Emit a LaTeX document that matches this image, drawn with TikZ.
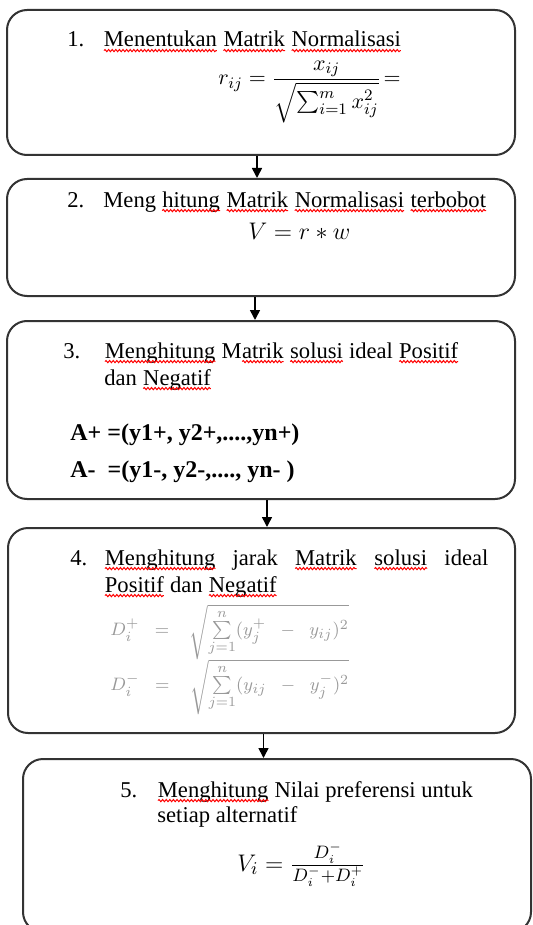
\documentclass[tikz,border=0pt]{standalone}
\usepackage{amsmath}
\usepackage{fontspec}
\setmainfont{Liberation Serif}
\usetikzlibrary{arrows.meta,positioning,decorations.pathmorphing}
\newcommand\redwave[1]{\tikz[baseline=(w.base)]{\node[inner sep=0pt,outer sep=0pt] (w) {#1};
  \draw[red,line width=0.5pt,decorate,decoration={snake,amplitude=0.55pt,segment length=1.8pt}]
  ([yshift=-1.8pt]w.base west) -- ([yshift=-1.8pt]w.base east);}}
\tikzset{
 stepbox/.style={draw=black!80,line width=1pt,rounded corners=10pt},
 arrow/.style={-{Triangle[length=5pt,width=5pt]},line width=0.8pt},
 txt/.style={anchor=base west,inner sep=0pt,font=\fontsize{11.3}{13.5}\selectfont},
 eq/.style={txt,font=\fontsize{12}{14}\selectfont},
 grayeq/.style={txt,text=black!40,font=\fontsize{9.5}{11}\selectfont}
}
\begin{document}
\begin{tikzpicture}[x=0.5pt,y=-0.5pt]
\useasboundingbox (0,0) rectangle (533,925);
\clip (0,0) rectangle (533,925);
% steps
\node[stepbox,minimum width=254pt,minimum height=72.5pt] (norm) at (261,82.5) {};
\node[stepbox,minimum width=254pt,minimum height=58.5pt] (bobot) at (261,237.5) {};
\node[stepbox,minimum width=254pt,minimum height=89pt] (ideal) at (261,410) {};
\node[stepbox,minimum width=253.5pt,minimum height=102.5pt] (jarak) at (261.5,630.5) {};
\node[stepbox,minimum width=254pt,minimum height=86.5pt] (pref) at (277,845.5) {};
\draw[arrow] ([xshift=-2pt]norm.south) -- ([xshift=-2pt]norm.south |- bobot.north);
\draw[arrow] ([xshift=-3pt]bobot.south) -- ([xshift=-3pt]bobot.south |- ideal.north);
\draw[arrow] ([xshift=3pt]ideal.south) -- ([xshift=3pt]ideal.south |- jarak.north);
\draw[arrow] ([xshift=1pt]jarak.south) -- ([xshift=1pt]jarak.south |- pref.north);
% step 1
\node[txt] (num1) at (67,47) {1.};
\node[txt] (txt1) at (103,47) {\redwave{Menentukan} \redwave{Matrik} \redwave{Normalisasi}};
\node[eq,font=\fontsize{11}{13}\selectfont] (eq1) at (218,85) {$r_{ij}=\dfrac{x_{ij}}{\sqrt{\sum_{i=1}^{m}x_{ij}^{2}}}\!=$};
% step 2
\node[txt] (num2) at (67,207) {2.};
\node[txt] (txt2) at (103,207) {Meng \redwave{hitung} \redwave{Matrik} \redwave{Normalisasi} \redwave{terbobot}};
\node[eq] (eq2) at (248,240) {$V = r \ast w$};
% step 3
\node[txt] (num3) at (63,358) {3.};
\node[txt] (txt3a) at (104,358) {\redwave{Menghitung} M\redwave{atrik} \redwave{solusi} ideal \redwave{Positif}};
\node[txt] (txt3b) at (104,385) {dan \redwave{Negatif}};
\node[eq,font=\fontsize{12}{14}\selectfont\bfseries] (apos) at (70,440) {A+ =(y1+, y2+,....,yn+)};
\node[eq,font=\fontsize{12}{14}\selectfont\bfseries] (aneg) at (70,477) {A-\ \ =(y1-, y2-,...., yn- )};
% step 4
\node[txt] (num4) at (70,565) {4.};
\node[txt] (txt4a) at (104,565) {\makebox[192pt][s]{\redwave{Menghitung} jarak \redwave{Matrik} \redwave{solusi} ideal}};
\node[txt] (txt4b) at (104,592) {\redwave{Positif} dan \redwave{Negatif}};
\node[grayeq] (dpos) at (110,635) {$D_i^{+} \;\;=\;\;\; \sqrt{\sum\limits_{j=1}^{n}(y_j^{+} \;\;-\;\; y_{ij})^2}$};
\node[grayeq] (dneg) at (110,690) {$D_i^{-} \;\;=\;\;\; \sqrt{\sum\limits_{j=1}^{n}(y_{ij} \;\;-\;\; y_j^{-})^2}$};
% step 5
\node[txt] (num5) at (120,797) {5.};
\node[txt] (txt5a) at (157,797) {\redwave{Menghitung} Nilai preferensi untuk};
\node[txt] (txt5b) at (157,822) {setiap alternatif};
\node[eq,font=\fontsize{13}{15}\selectfont] (eq5) at (237,871) {$V_i = \frac{D_i^{-}}{D_i^{-}+D_i^{+}}$};
\end{tikzpicture}
\end{document}
